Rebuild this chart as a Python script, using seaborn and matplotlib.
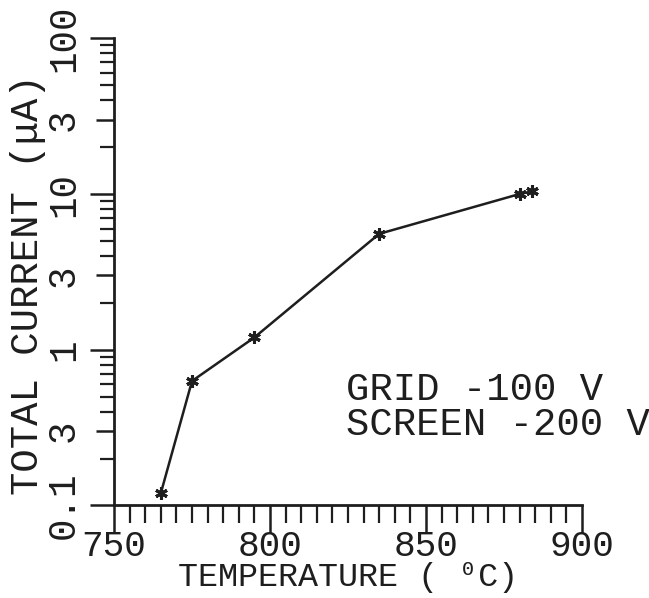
import matplotlib
matplotlib.use("Agg")
import matplotlib.pyplot as plt
import seaborn as sns
import numpy as np
from matplotlib.ticker import FixedLocator, NullFormatter

# values
temperature = [765, 775, 795, 835, 880, 884]
current = [0.12, 0.63, 1.2, 5.55, 10.0, 10.4]

y_ticks = [0.1, 0.3, 1, 3, 10, 30, 100]
y_tick_labels = ["0.1", "3", "1", "3", "10", "3", "100"]
x_ticks = [750, 800, 850, 900]
note_lines = ["GRID -100 V", "SCREEN -200 V"]

sns.set_style("ticks")
plt.rcParams['font.family'] = ['Liberation Mono', 'DejaVu Sans Mono', 'DejaVu Sans']
ink = "#1e1e1e"

fig = plt.figure(figsize=(6.49, 5.98), dpi=100)
ax = fig.add_axes([0.1757, 0.1547, 0.7210, 0.7813])

sns.lineplot(x=temperature, y=current, ax=ax, color=ink, lw=1.8,
             marker=(6, 2, 0), markersize=9, markeredgewidth=2.2,
             markeredgecolor=ink, estimator=None, sort=False)

ax.set_yscale("log")
ax.set_xlim(750, 900)
ax.set_ylim(0.1, 100)

for s in ["top", "right"]:
    ax.spines[s].set_visible(False)
for s in ["left", "bottom"]:
    ax.spines[s].set_linewidth(2.0)
    ax.spines[s].set_color(ink)

# y axis: decades and 3s labelled, minors unlabelled
ax.yaxis.set_major_locator(FixedLocator(y_ticks))
ax.set_yticklabels(y_tick_labels, rotation=90, va="center", fontsize=27)
minors = [m * d for d in [0.1, 1, 10] for m in [2, 4, 5, 6, 7, 8, 9]]
ax.yaxis.set_minor_locator(FixedLocator(minors))
ax.yaxis.set_minor_formatter(NullFormatter())
ax.tick_params(axis="y", which="major", length=17, width=1.8, color=ink, pad=6)
ax.tick_params(axis="y", which="minor", length=10, width=1.6, color=ink)
for t, v in zip(ax.yaxis.get_major_ticks(), y_ticks):
    if str(v).startswith("3") or str(v).startswith("0.3"):
        t.tick1line.set_markersize(13)

# x axis
ax.xaxis.set_major_locator(FixedLocator(x_ticks))
ax.xaxis.set_minor_locator(FixedLocator(np.arange(750, 901, 5)))
ax.set_xticklabels([str(v) for v in x_ticks], fontsize=26)
ax.tick_params(axis="x", which="major", length=20, width=1.8, color=ink, pad=-3)
ax.tick_params(axis="x", which="minor", length=13, width=1.6, color=ink)

ax.set_xlabel("TEMPERATURE ( \u2070C)", fontsize=24, color=ink)
ax.xaxis.set_label_coords(0.5, -0.172)
ax.xaxis.label.set_va("baseline")
ax.set_ylabel("TOTAL CURRENT (\u03bcA)", fontsize=28, color=ink)
ax.yaxis.set_label_coords(-0.184, 0.472)
ax.yaxis.label.set_va("center")

for lbl in ax.get_xticklabels() + ax.get_yticklabels():
    lbl.set_color(ink)

ax.text(0.495, 0.285, "\n".join(note_lines), transform=ax.transAxes,
        fontsize=28, color=ink, ha="left", va="top", linespacing=0.95)

fig.savefig("out.png", dpi=100, facecolor="white")
